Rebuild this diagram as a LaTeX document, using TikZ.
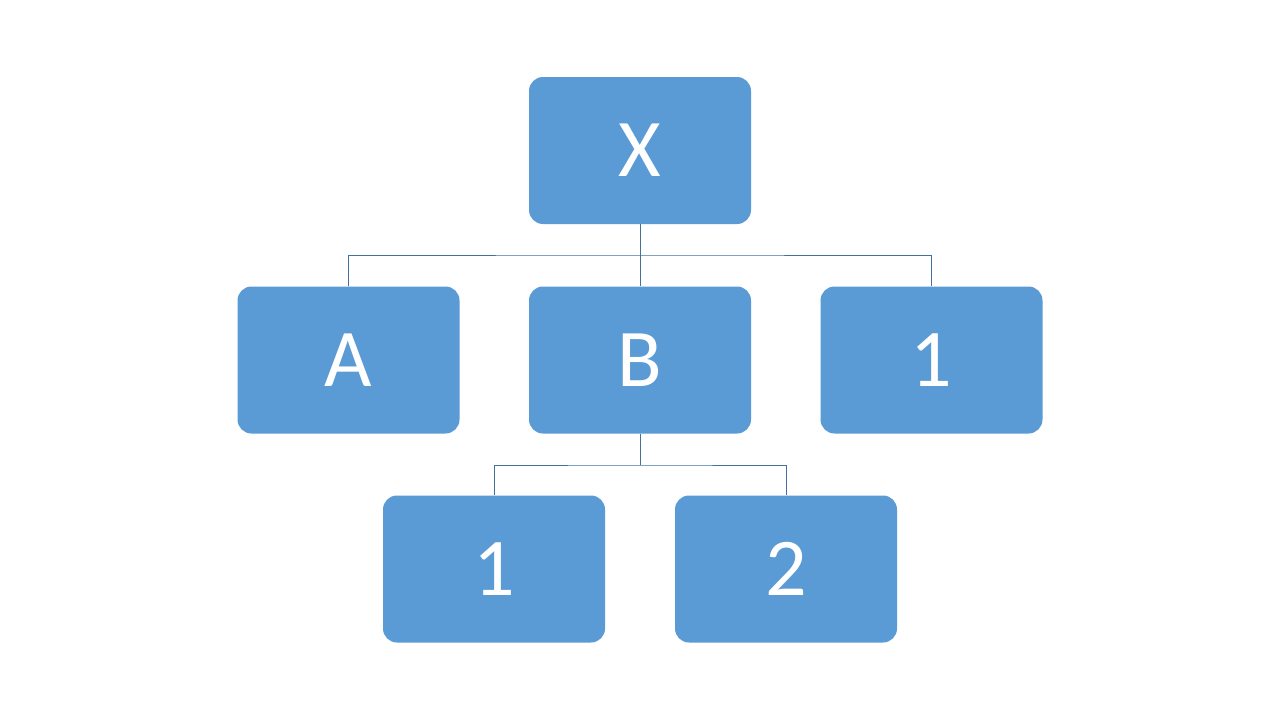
\documentclass[tikz,border=0pt]{standalone}
\usepackage{fontspec}
\setmainfont{Carlito}
\definecolor{boxfill}{HTML}{5B9BD5}
\definecolor{linec}{HTML}{41719C}
\begin{document}
\begin{tikzpicture}[x=1pt,y=-1pt,
  box/.style={fill=boxfill,draw=none,rounded corners=14pt,minimum width=222pt,minimum height=147pt,inner sep=0pt,text=white,font=\fontsize{82}{82}\selectfont},
  conn/.style={draw=linec,line width=1pt}]
\useasboundingbox[fill=white] (0,0) rectangle (1280,720);
\node[box] (x) at (640,150.5) {X};
\node[box] (a) at (348.5,360) {A};
\node[box] (b) at (640,360) {B};
\node[box] (c) at (931.5,360) {1};
\node[box] (d) at (494,569) {1};
\node[box] (e) at (786,569) {2};
\coordinate (j1) at (640,255);
\coordinate (j2) at (640,465);
\draw[conn] (x.south) -- (b.north);
\draw[conn] (a.north) |- (j1) -| (c.north);
\draw[conn] (b.south) -- (j2);
\draw[conn] (d.north) |- (j2) -| (e.north);
\end{tikzpicture}
\end{document}
